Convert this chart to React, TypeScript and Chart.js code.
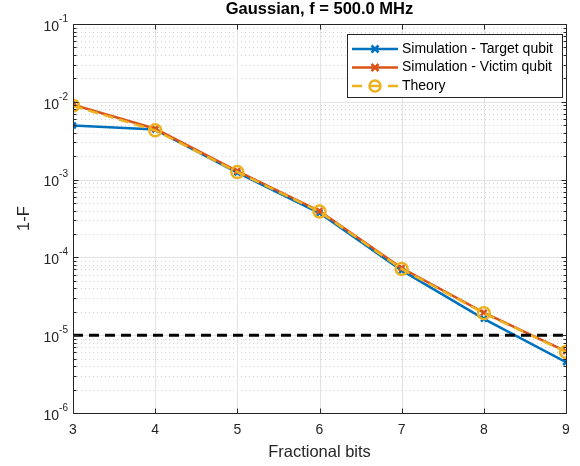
import React, { useEffect, useRef } from "react";
import { Chart, registerables } from "chart.js";

Chart.register(...registerables);

const fractionalBits = [3, 4, 5, 6, 7, 8, 9];
const targetQubit = [4.95e-3, 4.4e-3, 1.23e-3, 3.72e-4, 6.8e-5, 1.62e-5, 4.5e-6];
const victimQubit = [9.2e-3, 4.5e-3, 1.29e-3, 3.95e-4, 7.3e-5, 1.95e-5, 6.2e-6];
const theory = [8.9e-3, 4.3e-3, 1.25e-3, 3.88e-4, 7.1e-5, 1.92e-5, 6.1e-6];
const threshold = 1e-5;
const xTicks = [3, 4, 5, 6, 7, 8, 9];
const yDecades = [-6, -5, -4, -3, -2, -1];

const seriesNames = ["Simulation - Target qubit", "Simulation - Victim qubit", "Theory"];
const titleText = "Gaussian, f = 500.0 MHz";
const xTitle = "Fractional bits";
const yTitle = "1-F";

const BLUE = "#0072BD";
const RED = "#D95319";
const YELLOW = "#EDB120";
const AXIS = "#262626";
const FONT = '"Liberation Sans", Arial, Helvetica, sans-serif';

const matlabPlugin = {
  id: "matlabAxes",
  beforeDatasetsDraw(chart: any) {
    const { ctx, chartArea: a, scales } = chart;
    const xs = scales.x;
    const ys = scales.y;
    ctx.save();
    // minor dotted horizontal grid
    ctx.strokeStyle = "#d4d4d4";
    ctx.lineWidth = 1;
    ctx.setLineDash([1, 3]);
    for (const d of yDecades.slice(0, -1)) {
      for (let m = 2; m <= 9; m++) {
        const y = Math.round(ys.getPixelForValue(m * Math.pow(10, d))) + 0.5;
        ctx.beginPath();
        ctx.moveTo(a.left, y);
        ctx.lineTo(a.right, y);
        ctx.stroke();
      }
    }
    ctx.setLineDash([]);
    // major grid
    ctx.strokeStyle = "#e3e3e3";
    for (const d of yDecades) {
      const y = Math.round(ys.getPixelForValue(Math.pow(10, d))) + 0.5;
      ctx.beginPath();
      ctx.moveTo(a.left, y);
      ctx.lineTo(a.right, y);
      ctx.stroke();
    }
    for (const t of xTicks) {
      const x = Math.round(xs.getPixelForValue(t)) + 0.5;
      ctx.beginPath();
      ctx.moveTo(x, a.top);
      ctx.lineTo(x, a.bottom);
      ctx.stroke();
    }
    ctx.restore();
  },
  afterDatasetsDraw(chart: any) {
    const { ctx, chartArea: a, scales } = chart;
    const xs = scales.x;
    const ys = scales.y;
    ctx.save();
    // box
    ctx.strokeStyle = AXIS;
    ctx.lineWidth = 1;
    const L = Math.round(a.left) + 0.5;
    const R = Math.round(a.right) + 0.5;
    const T = Math.round(a.top) + 0.5;
    const B = Math.round(a.bottom) + 0.5;
    ctx.strokeRect(L, T, R - L, B - T);
    // ticks
    ctx.beginPath();
    for (const t of xTicks) {
      const x = Math.round(xs.getPixelForValue(t)) + 0.5;
      ctx.moveTo(x, B);
      ctx.lineTo(x, B - 5);
      ctx.moveTo(x, T);
      ctx.lineTo(x, T + 5);
    }
    for (const d of yDecades) {
      const y = Math.round(ys.getPixelForValue(Math.pow(10, d))) + 0.5;
      ctx.moveTo(L, y);
      ctx.lineTo(L + 5, y);
      ctx.moveTo(R, y);
      ctx.lineTo(R - 5, y);
      if (d < -1) {
        for (let m = 2; m <= 9; m++) {
          const ym = Math.round(ys.getPixelForValue(m * Math.pow(10, d))) + 0.5;
          ctx.moveTo(L, ym);
          ctx.lineTo(L + 3, ym);
          ctx.moveTo(R, ym);
          ctx.lineTo(R - 3, ym);
        }
      }
    }
    ctx.stroke();

    // tick labels
    ctx.fillStyle = AXIS;
    ctx.font = `14px ${FONT}`;
    ctx.textAlign = "center";
    ctx.textBaseline = "middle";
    for (const t of xTicks) {
      ctx.fillText(String(t), xs.getPixelForValue(t), 430);
    }
    for (const d of yDecades) {
      const y = ys.getPixelForValue(Math.pow(10, d));
      const exp = String(d);
      ctx.font = `10px ${FONT}`;
      const ew = ctx.measureText(exp).width;
      const right = a.left - 5;
      ctx.textAlign = "left";
      ctx.fillText(exp, right - ew, y - 5);
      ctx.font = `14px ${FONT}`;
      ctx.textAlign = "right";
      ctx.fillText("10", right - ew, y + 3);
    }
    // axis titles
    ctx.textAlign = "center";
    ctx.font = `16.5px ${FONT}`;
    ctx.fillText(xTitle, (a.left + a.right) / 2, 452);
    ctx.save();
    ctx.translate(24, (a.top + a.bottom) / 2);
    ctx.rotate(-Math.PI / 2);
    ctx.fillText(yTitle, 0, 0);
    ctx.restore();
    // title
    ctx.fillStyle = "#000";
    ctx.font = `bold 16.5px ${FONT}`;
    ctx.fillText(titleText, (a.left + a.right) / 2, 9);

    // legend
    const lx = 347.5, ly = 34.5, lw = 215, lh = 63;
    ctx.fillStyle = "#fff";
    ctx.fillRect(lx, ly, lw, lh);
    ctx.strokeStyle = AXIS;
    ctx.lineWidth = 1;
    ctx.strokeRect(lx, ly, lw, lh);
    const rows = [49, 67.5, 86];
    const colors = [BLUE, RED, YELLOW];
    rows.forEach((ry, i) => {
      ctx.strokeStyle = colors[i];
      ctx.lineWidth = 2.5;
      if (i < 2) {
        ctx.beginPath();
        ctx.moveTo(352, ry);
        ctx.lineTo(398, ry);
        ctx.stroke();
        ctx.beginPath();
        const s = 3.5;
        ctx.moveTo(375 - s, ry - s);
        ctx.lineTo(375 + s, ry + s);
        ctx.moveTo(375 - s, ry + s);
        ctx.lineTo(375 + s, ry - s);
        ctx.stroke();
      } else {
        ctx.beginPath();
        ctx.moveTo(352, ry);
        ctx.lineTo(362, ry);
        ctx.moveTo(388, ry);
        ctx.lineTo(398, ry);
        ctx.moveTo(369, ry);
        ctx.lineTo(381, ry);
        ctx.stroke();
        ctx.beginPath();
        ctx.arc(375, ry, 5.5, 0, Math.PI * 2);
        ctx.stroke();
      }
      ctx.fillStyle = "#000";
      ctx.font = `14px ${FONT}`;
      ctx.textAlign = "left";
      ctx.textBaseline = "middle";
      ctx.fillText(seriesNames[i], 402, ry);
    });
    ctx.restore();
  },
};

export default function App() {
  const ref = useRef<HTMLCanvasElement>(null);
  useEffect(() => {
    if (!ref.current) return;
    const pts = (vals: number[]) => fractionalBits.map((x, i) => ({ x, y: vals[i] }));
    const chart = new Chart(ref.current, {
      type: "line",
      data: {
        datasets: [
          {
            label: seriesNames[0],
            data: pts(targetQubit),
            borderColor: BLUE,
            backgroundColor: BLUE,
            borderWidth: 2.5,
            pointStyle: "crossRot",
            pointRadius: 4,
            pointBorderWidth: 2.5,
            fill: false,
            order: 4,
          },
          {
            label: seriesNames[1],
            data: pts(victimQubit),
            borderColor: RED,
            backgroundColor: RED,
            borderWidth: 2.5,
            pointStyle: "crossRot",
            pointRadius: 4,
            pointBorderWidth: 2.5,
            fill: false,
            order: 3,
          },
          {
            label: seriesNames[2],
            data: pts(theory),
            borderColor: YELLOW,
            backgroundColor: "rgba(0,0,0,0)",
            borderWidth: 2.5,
            borderDash: [10, 6],
            pointStyle: "circle",
            pointRadius: 6,
            pointBorderWidth: 2.5,
            fill: false,
            order: 2,
          },
          {
            label: "threshold",
            data: [
              { x: fractionalBits[0], y: threshold },
              { x: fractionalBits[fractionalBits.length - 1], y: threshold },
            ],
            borderColor: "#000",
            borderWidth: 3,
            borderDash: [10, 6],
            pointRadius: 0,
            fill: false,
            order: 1,
          },
        ],
      },
      options: {
        animation: false,
        responsive: false,
        layout: { padding: { left: 0, top: 24, right: 14, bottom: 0 } },
        plugins: { legend: { display: false }, title: { display: false }, tooltip: { enabled: false } },
        elements: { line: { tension: 0 } },
        scales: {
          x: {
            type: "linear",
            min: 3,
            max: 9,
            ticks: { display: false },
            grid: { display: false },
            border: { display: false },
            afterFit: (s: any) => {
              s.height = 53;
            },
          },
          y: {
            type: "logarithmic",
            min: 1e-6,
            max: 1e-1,
            ticks: { display: false },
            grid: { display: false },
            border: { display: false },
            afterFit: (s: any) => {
              s.width = 73;
            },
          },
        },
      },
      plugins: [matlabPlugin],
    });
    return () => chart.destroy();
  }, []);
  return (
    <canvas
      ref={ref}
      width={580}
      height={466}
      style={{ position: "absolute", left: 0, top: 0, display: "block" }}
    />
  );
}
